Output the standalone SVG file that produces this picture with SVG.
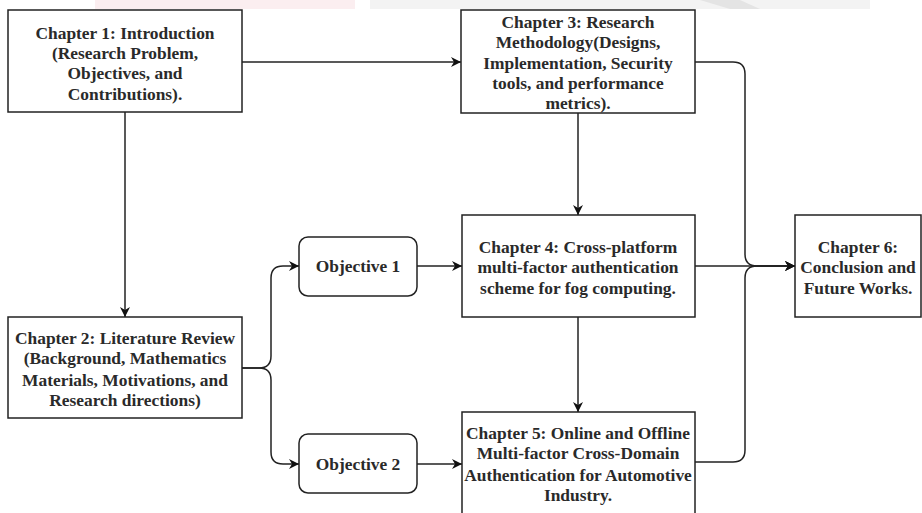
<svg xmlns="http://www.w3.org/2000/svg" width="922" height="513" viewBox="0 0 922 513">
<defs>
<style>
.box{fill:#fff;stroke:#222;stroke-width:1.5}
.t{font-family:"Liberation Serif","Times New Roman",serif;font-size:17.4px;font-weight:bold;fill:#2a2a2a;text-anchor:middle}
.c{fill:none;stroke:#222;stroke-width:1.5}
</style>
<marker id="ah" viewBox="0 0 10 10" refX="10" refY="5" markerWidth="10" markerHeight="10" markerUnits="userSpaceOnUse" orient="auto">
<path d="M0,0 L10,5 L0,10 L3,5 Z" fill="#111"/>
</marker>
</defs>
<rect width="922" height="513" fill="#fff"/>
<g id="watermark">
<rect x="95" y="0" width="260" height="9" fill="#fbeef0"/>
<rect x="370" y="0" width="500" height="9" fill="#f3f3f3"/>
<path d="M700,0 L740,0 L760,9 L730,9 Z" fill="#e4e4e4"/>
</g>
<g id="connectors">
<path class="c" d="M242,62 H461" marker-end="url(#ah)"/>
<path class="c" d="M125,112 V317" marker-end="url(#ah)"/>
<path class="c" d="M578,113 V215" marker-end="url(#ah)"/>
<path class="c" d="M578,317 V412" marker-end="url(#ah)"/>
<path class="c" d="M242,368 H259 Q271,368 271,356 V278 Q271,266 283,266 H299" marker-end="url(#ah)"/>
<path class="c" d="M242,368 H259 Q271,368 271,380 V452 Q271,464 283,464 H299" marker-end="url(#ah)"/>
<path class="c" d="M417,266 H462" marker-end="url(#ah)"/>
<path class="c" d="M417,464 H462" marker-end="url(#ah)"/>
<path class="c" d="M695,62 H733 Q745,62 745,74 V254 Q745,266 757,266 H795" marker-end="url(#ah)"/>
<path class="c" d="M695,266 H795" marker-end="url(#ah)"/>
<path class="c" d="M695,462 H733 Q745,462 745,450 V278 Q745,266 757,266 H795" marker-end="url(#ah)"/>
</g>
<g id="ch1">
<rect class="box" x="8" y="10" width="234" height="102"/>
<text class="t" x="125" y="39">Chapter 1: Introduction</text>
<text class="t" x="125" y="59">(Research Problem,</text>
<text class="t" x="125" y="79">Objectives, and</text>
<text class="t" x="125" y="100">Contributions).</text>
</g>
<g id="ch3">
<rect class="box" x="461" y="10" width="234" height="103"/>
<text class="t" x="578" y="28">Chapter 3: Research</text>
<text class="t" x="578" y="48">Methodology(Designs,</text>
<text class="t" x="578" y="69">Implementation, Security</text>
<text class="t" x="578" y="89">tools, and performance</text>
<text class="t" x="578" y="109">metrics).</text>
</g>
<g id="ch2">
<rect class="box" x="8" y="317" width="234" height="101"/>
<text class="t" x="125" y="344">Chapter 2: Literature Review</text>
<text class="t" x="125" y="364">(Background, Mathematics</text>
<text class="t" x="125" y="386">Materials, Motivations, and</text>
<text class="t" x="125" y="406">Research directions)</text>
</g>
<g id="obj1">
<rect class="box" x="299" y="237" width="118" height="59" rx="9"/>
<text class="t" x="358" y="272">Objective 1</text>
</g>
<g id="obj2">
<rect class="box" x="299" y="434" width="118" height="59" rx="9"/>
<text class="t" x="358" y="470">Objective 2</text>
</g>
<g id="ch4">
<rect class="box" x="462" y="215" width="233" height="102"/>
<text class="t" x="578" y="253">Chapter 4: Cross-platform</text>
<text class="t" x="578" y="273">multi-factor authentication</text>
<text class="t" x="578" y="294">scheme for fog computing.</text>
</g>
<g id="ch5">
<rect class="box" x="462" y="412" width="233" height="110"/>
<text class="t" x="578" y="439">Chapter 5: Online and Offline</text>
<text class="t" x="578" y="459">Multi-factor Cross-Domain</text>
<text class="t" x="578" y="481">Authentication for Automotive</text>
<text class="t" x="578" y="501">Industry.</text>
</g>
<g id="ch6">
<rect class="box" x="795" y="215" width="126" height="102"/>
<text class="t" x="858" y="253">Chapter 6:</text>
<text class="t" x="858" y="273">Conclusion and</text>
<text class="t" x="858" y="294">Future Works.</text>
</g>
</svg>
